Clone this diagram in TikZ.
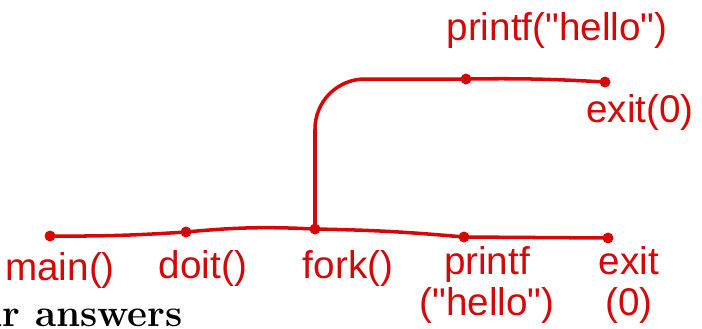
\documentclass[tikz,border=0pt]{standalone}
\usepackage{fontspec}
\newfontfamily\handfont{Liberation Sans}
\definecolor{penred}{RGB}{212,8,8}
\begin{document}
\begin{tikzpicture}[dot/.style={circle,fill=penred,inner sep=0pt,minimum size=.11cm},
  lbl/.style={text=penred,font=\handfont\fontsize{11}{13}\selectfont,align=center},
  wire/.style={penred,line width=1pt,line cap=round}]
\useasboundingbox (0,0) rectangle (7.02,3.28);
% main process
\node [dot] (main) at (0.50,0.92) {};
\node [dot] (doit) at (1.86,0.96) {};
\node [dot] (fork) at (3.15,0.99) {};
\node [dot] (pr) at (4.64,0.91) {};
\node [dot] (ex) at (6.08,0.90) {};
% child process
\node [dot] (cpr) at (4.66,2.49) {};
\node [dot] (cex) at (6.05,2.46) {};
\draw [wire] (main.center) to[bend right=2] (doit.center) to[bend left=4] (fork.center) to[bend left=2] (pr.center) -- (ex.center);
\draw [wire,rounded corners=.5cm] (fork.center) |- (cpr.center);
\draw [wire] (cpr.center) to[bend left=2] (cex.center);
% labels
\node [lbl] (lmain) at (0.60,0.58) {main()};
\node [lbl] (ldoit) at (2.03,0.60) {doit()};
\node [lbl] (lfork) at (3.48,0.60) {fork()};
\node [lbl] (lpr) at (4.87,0.43) {printf\\[-1.6pt]("hello")};
\node [lbl] (lex) at (6.29,0.43) {exit\\[-1.6pt](0)};
\node [lbl] (lcpr) at (5.57,2.98) {printf("hello")};
\node [lbl] (lcex) at (6.40,2.16) {exit(0)};
\node [anchor=base west,inner sep=0pt,font=\fontsize{11}{13}\selectfont\bfseries] (ans) at (-0.22,0.02) {ur answers};
\end{tikzpicture}
\end{document}
